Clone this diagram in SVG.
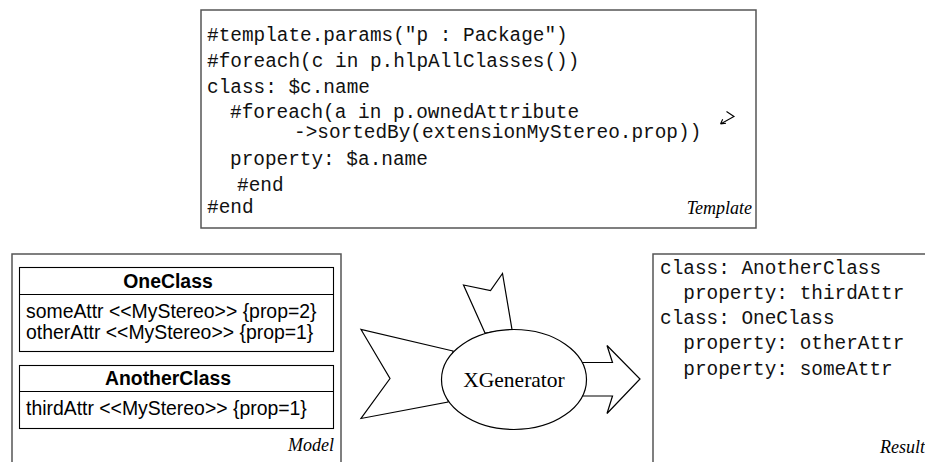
<svg xmlns="http://www.w3.org/2000/svg" width="925" height="462" viewBox="0 0 925 462">
<style>
.frame{fill:#fff;stroke:#555;stroke-width:1.5}
.cls{fill:none;stroke:#000;stroke-width:1.1}
.mono{font-family:"Liberation Mono","Courier New",monospace;font-size:19.4px;fill:#111}
.sans{font-family:"Liberation Sans",Arial,sans-serif;font-size:19.4px;fill:#000}
.bold{font-weight:bold}
.cap{font-family:"Liberation Serif","Times New Roman",serif;font-style:italic;font-size:18px;fill:#000}
.shape{fill:#fff;stroke:#000;stroke-width:1.2;stroke-linejoin:miter}
</style>
<rect width="925" height="462" fill="#fff"/>
<g id="template">
<rect class="frame" x="201" y="10" width="555" height="218"/>
<text class="mono" x="207" y="41" xml:space="preserve">#template.params("p : Package")</text>
<text class="mono" x="207" y="67" xml:space="preserve">#foreach(c in p.hlpAllClasses())</text>
<text class="mono" x="207" y="93" xml:space="preserve">class: $c.name</text>
<text class="mono" x="230" y="118">#foreach(a in p.ownedAttribute</text>
<text class="mono" x="294" y="138">-&gt;sortedBy(extensionMyStereo.prop))</text>
<text class="mono" x="230" y="165">property: $a.name</text>
<text class="mono" x="237" y="191">#end</text>
<text class="mono" x="207" y="213">#end</text>
<path d="M726.5,111.5 L734,116.5 L720.5,124 M720.5,124 l5.5,-0.8 M720.5,124 l2.2,-4.8" fill="none" stroke="#000" stroke-width="1.1"/>
<text class="cap" x="752" y="214" text-anchor="end">Template</text>
</g>
<g id="model">
<rect class="frame" x="12" y="254" width="329" height="260"/>
<g id="oneclass">
<rect class="cls" x="19.5" y="267.5" width="314" height="84"/>
<line class="cls" x1="19.5" y1="294.5" x2="333.5" y2="294.5"/>
<text class="sans bold" x="168" y="288" text-anchor="middle">OneClass</text>
<text class="sans" x="26" y="318">someAttr &lt;&lt;MyStereo&gt;&gt; {prop=2}</text>
<text class="sans" x="26" y="339">otherAttr &lt;&lt;MyStereo&gt;&gt; {prop=1}</text>
</g>
<g id="anotherclass">
<rect class="cls" x="19.5" y="365.5" width="314" height="63"/>
<line class="cls" x1="19.5" y1="391.5" x2="333.5" y2="391.5"/>
<text class="sans bold" x="168" y="385" text-anchor="middle">AnotherClass</text>
<text class="sans" x="26" y="415">thirdAttr &lt;&lt;MyStereo&gt;&gt; {prop=1}</text>
</g>
<text class="cap" x="334" y="451" text-anchor="end">Model</text>
</g>
<g id="connectors">
<polygon class="shape" points="453,351 361,329.5 390,378.5 361,418.5 448,402"/>
<polygon class="shape" points="485,333 463.5,285 490.5,290.5 502.5,273.5 512,329.5"/>
<polygon class="shape" points="582,362.5 612.5,362.5 607,345.5 640,379 607,413.5 612.5,396 582,396"/>
</g>
<g id="xgenerator">
<ellipse class="shape" cx="514" cy="379.5" rx="72.5" ry="50"/>
<text x="514" y="387" text-anchor="middle" font-family="Liberation Serif,Times New Roman,serif" font-size="21.5">XGenerator</text>
</g>
<g id="result">
<rect class="frame" x="653" y="254" width="300" height="260"/>
<text class="mono" x="660" y="274" xml:space="preserve">class: AnotherClass</text>
<text class="mono" x="660" y="299" xml:space="preserve">  property: thirdAttr</text>
<text class="mono" x="660" y="324" xml:space="preserve">class: OneClass</text>
<text class="mono" x="660" y="349" xml:space="preserve">  property: otherAttr</text>
<text class="mono" x="660" y="375" xml:space="preserve">  property: someAttr</text>
<text class="cap" x="925" y="453" text-anchor="end">Result</text>
</g>
</svg>
